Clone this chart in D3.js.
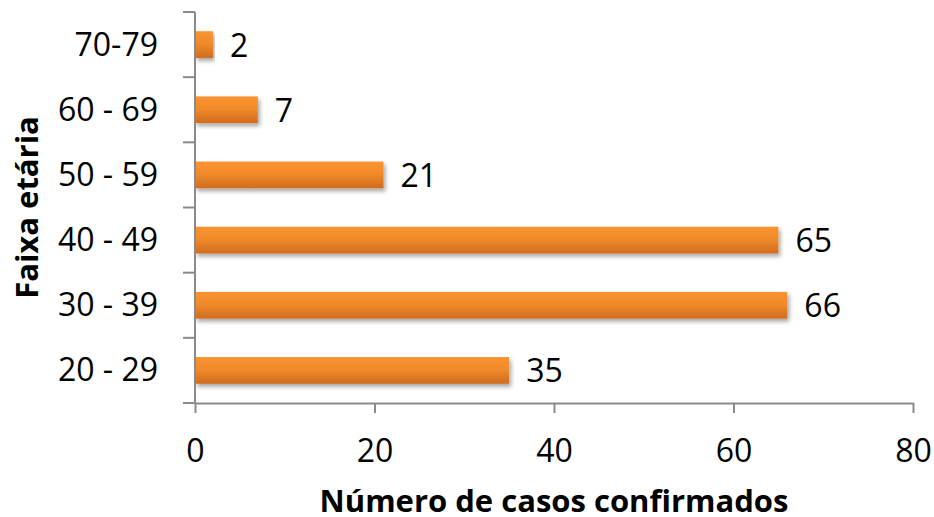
<!DOCTYPE html>
<html>
<head>
<meta charset="utf-8">
<script src="https://cdn.jsdelivr.net/npm/d3@7"></script>
<style>
  body { margin: 0; background: #fff; }
  text { font-family: "Open Sans", sans-serif; fill: #000; }
</style>
</head>
<body>
<svg id="chart" width="934" height="517"></svg>
<script>
"use strict";

// age groups, top to bottom as in the picture
const faixas = ["70-79", "60 - 69", "50 - 59", "40 - 49", "30 - 39", "20 - 29"];
const casos = [2, 7, 21, 65, 66, 35];
const xTicks = [0, 20, 40, 60, 80];

(() => {
	const W = 934, H = 517;
	const m = { top: 12, right: 21, bottom: 114, left: 195 };
	const svg = d3.select("#chart");

	const data = faixas.map((f, i) => ({ faixa: f, n: casos[i] }));

	const x = d3.scaleLinear().domain([0, 80]).range([m.left, W - m.right]);
	// excel-like layout: gap between bars is 0.59 of a step
	const y = d3.scaleBand().domain(faixas)
		.range([m.top, H - m.bottom])
		.paddingInner(0.59).paddingOuter(0.295);

	const defs = svg.append("defs");
	const grad = defs.append("linearGradient")
		.attr("id", "barGrad").attr("x1", 0).attr("y1", 0).attr("x2", 0).attr("y2", 1);
	grad.append("stop").attr("offset", "0%").attr("stop-color", "#fa9430");
	grad.append("stop").attr("offset", "45%").attr("stop-color", "#f18b2b");
	grad.append("stop").attr("offset", "100%").attr("stop-color", "#d06c1e");

	const shadow = defs.append("filter").attr("id", "shadow")
		.attr("x", "-5%").attr("y", "-30%").attr("width", "115%").attr("height", "180%");
	shadow.append("feDropShadow")
		.attr("dx", 2).attr("dy", 3).attr("stdDeviation", 2)
		.attr("flood-color", "#000").attr("flood-opacity", 0.35);

	// bars
	svg.append("g").selectAll("rect")
		.data(data).enter()
		.append("rect")
		.attr("x", x(0))
		.attr("y", d => y(d.faixa))
		.attr("width", d => x(d.n) - x(0))
		.attr("height", y.bandwidth())
		.attr("fill", "url(#barGrad)")
		.attr("filter", "url(#shadow)");

	// value labels
	svg.append("g").selectAll("text")
		.data(data).enter()
		.append("text")
		.attr("x", d => x(d.n) + 17)
		.attr("y", d => y(d.faixa) + y.bandwidth() / 2 + 12)
		.attr("font-size", 32)
		.text(d => d.n);

	const axisColor = "#8a8a8a";

	// x axis
	const gx = svg.append("g")
		.attr("transform", `translate(0,${H - m.bottom})`)
		.call(d3.axisBottom(x).tickValues(xTicks).tickSize(10).tickSizeOuter(0).tickPadding(16));
	gx.select(".domain").attr("stroke", axisColor).attr("stroke-width", 2);
	gx.selectAll(".tick line").attr("stroke", axisColor).attr("stroke-width", 2);
	gx.selectAll(".tick text")
		.attr("font-size", 32).attr("font-family", null).attr("dy", null)
		.attr("y", 59).attr("fill", "#000");

	// y axis: labels at band centres, ticks at band boundaries
	const gy = svg.append("g")
		.attr("transform", `translate(${m.left},0)`)
		.call(d3.axisLeft(y).tickSize(0).tickPadding(37));
	gy.select(".domain").remove();
	gy.selectAll(".tick text")
		.attr("font-size", 32).attr("font-family", null).attr("dy", null)
		.attr("y", 11).attr("fill", "#000");

	const step = y.step();
	const bounds = d3.range(faixas.length + 1).map(i => m.top + i * step);
	svg.append("g").selectAll("line")
		.data(bounds).enter()
		.append("line")
		.attr("x1", m.left - 12).attr("x2", m.left)
		.attr("y1", d => d).attr("y2", d => d)
		.attr("stroke", axisColor).attr("stroke-width", 2);
	svg.append("line")
		.attr("x1", m.left).attr("x2", m.left)
		.attr("y1", m.top).attr("y2", H - m.bottom)
		.attr("stroke", axisColor).attr("stroke-width", 2);

	// axis titles
	svg.append("text")
		.attr("x", (x(0) + x(80)) / 2).attr("y", 512)
		.attr("text-anchor", "middle")
		.attr("font-size", 31).attr("font-weight", "bold")
		.text("Número de casos confirmados");

	svg.append("text")
		.attr("transform", `translate(38,${(m.top + H - m.bottom) / 2}) rotate(-90)`)
		.attr("text-anchor", "middle")
		.attr("font-size", 31).attr("font-weight", "bold")
		.text("Faixa etária");
})();
</script>
</body>
</html>
